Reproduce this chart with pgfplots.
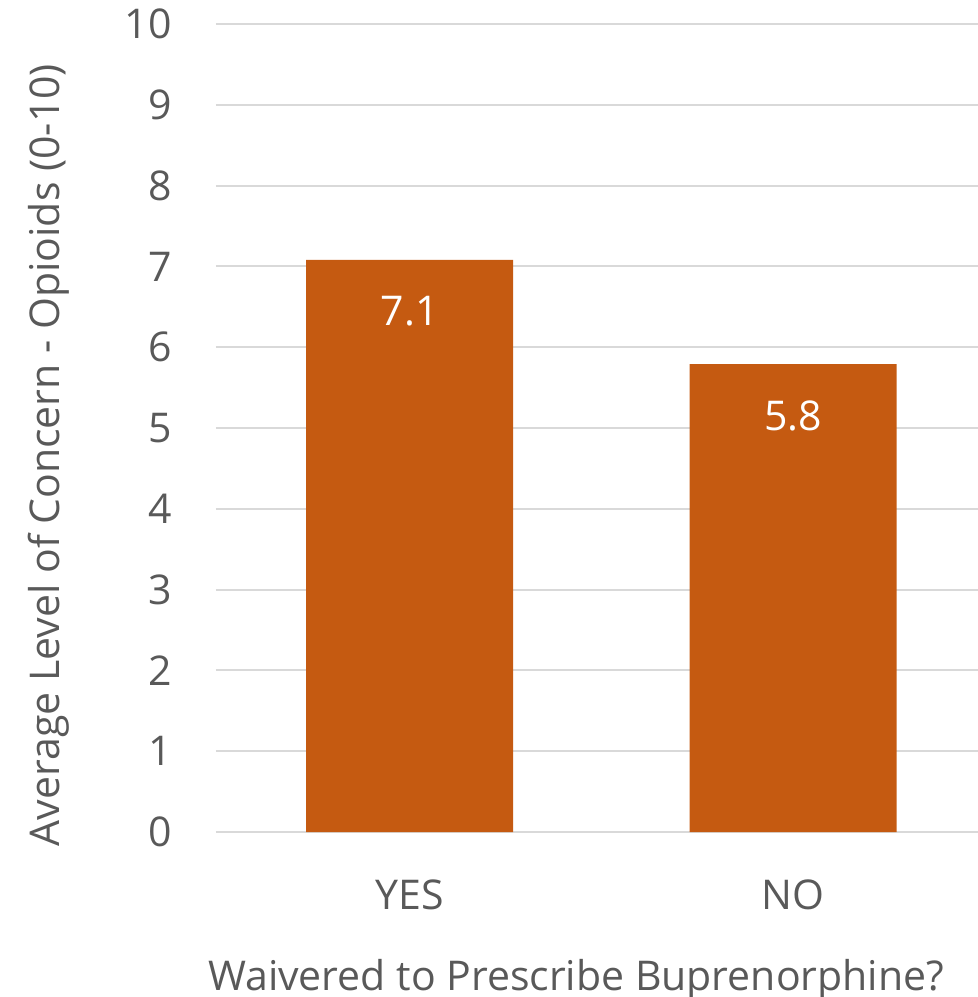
\documentclass[border=0pt]{standalone}
\usepackage{pgfplots}
\pgfplotsset{compat=1.18}
\usepackage{fontspec}
\setmainfont{Open Sans}

\definecolor{barorange}{HTML}{C55A11}
\definecolor{gridgray}{HTML}{D9D9D9}
\definecolor{textgray}{HTML}{595959}

\newcommand{\chartfont}{\fontsize{20.5}{24}\selectfont}

\begin{document}
\begin{tikzpicture}
\useasboundingbox (-108pt,-82.5pt) rectangle (381pt,416pt);
\clip (-108pt,-82.5pt) rectangle (381pt,416pt);
\begin{axis}[
    at={(0,0)}, anchor=south west,
    scale only axis,
    width=381pt, height=404pt,
    xmin=-0.505, xmax=1.482,
    ymin=0, ymax=10,
    axis line style={draw=none},
    ytick={0,1,...,10},
    xtick={0,1},
    xticklabels={YES,NO},
    ymajorgrids,
    grid style={gridgray, line width=1pt},
    major tick length=0pt,
    tick style={draw=none},
    /pgf/number format/assume math mode=true,
    ticklabel style={font=\chartfont, text=textgray, inner sep=0pt},
    yticklabel style={anchor=east, xshift=-22pt},
    xticklabel style={anchor=north, yshift=-23.5pt},
    xlabel={Waivered to Prescribe Buprenorphine?},
    xlabel style={font=\chartfont, text=textgray, inner sep=0pt,
        at={(axis description cs:0.4725,0)}, anchor=base, yshift=-79pt},
    ylabel={Average Level of Concern - Opioids (0-10)},
    ylabel style={font=\chartfont, text=textgray, inner sep=0pt,
        at={(axis description cs:0,0.4666)}, anchor=base, yshift=78pt},
    ybar, bar width=103.5pt,
    nodes near coords,
    nodes near coords style={font=\chartfont, text=white, anchor=north, inner sep=0pt, yshift=-18pt,
        /pgf/number format/fixed, /pgf/number format/precision=1,
        /pgf/number format/fixed zerofill},
]
\draw[gridgray, line width=1.2pt] (axis cs:-0.505,0) -- (axis cs:1.482,0);
\addplot[fill=barorange, draw=none] coordinates {(0,7.08) (1,5.79)};
\end{axis}
\end{tikzpicture}
\end{document}
